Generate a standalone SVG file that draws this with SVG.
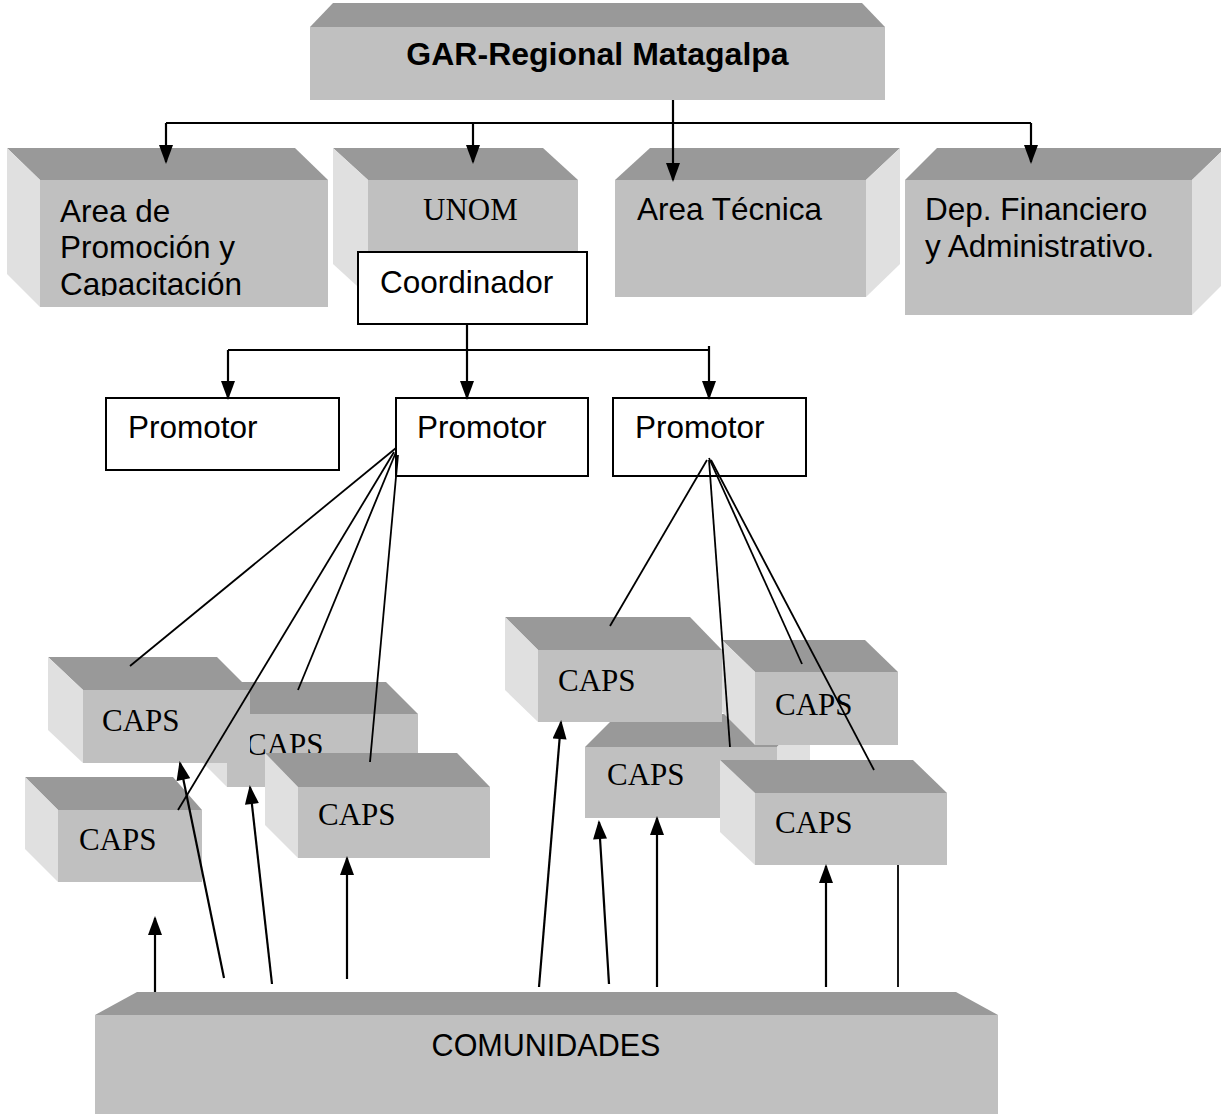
<svg xmlns="http://www.w3.org/2000/svg" width="1221" height="1114" viewBox="0 0 1221 1114">
<style>
.top{fill:#999999}
.front{fill:#c0c0c0}
.side{fill:#e0e0e0}
.box{fill:#ffffff;stroke:#000;stroke-width:2}
.ar{font-family:"Liberation Sans",Arial,sans-serif;font-size:31.5px;fill:#000}
.tm{font-family:"Liberation Serif","Times New Roman",serif;font-size:31px;fill:#000}
.con{stroke:#000;stroke-width:2;fill:none}
.arw{stroke:#000;stroke-width:2.2;fill:none;marker-end:url(#ah)}
.thin{stroke:#000;stroke-width:1.8;fill:none}
</style>
<defs>
<marker id="ah" markerUnits="userSpaceOnUse" markerWidth="20" markerHeight="14" viewBox="0 0 19 14" refX="17" refY="7" orient="auto">
<path d="M0,0 L19,7 L0,14 z" fill="#000"/>
</marker>
<clipPath id="clipA"><rect x="40" y="180" width="288" height="116"/></clipPath>
</defs>
<rect width="1221" height="1114" fill="#ffffff"/>

<g id="gar">
<polygon class="top" points="333,3 862,3 885,27 310,27"/>
<rect class="front" x="310" y="27" width="575" height="73"/>
<text class="ar" x="597.5" y="65" text-anchor="middle" font-weight="bold" style="font-size:32px">GAR-Regional Matagalpa</text>
</g>

<g id="area-promocion">
<polygon class="top" points="7,148 295,148 328,180 40,180"/>
<polygon class="side" points="7,148 40,180 40,307 7,274"/>
<rect class="front" x="40" y="180" width="288" height="127"/>
<g clip-path="url(#clipA)">
<text class="ar" x="60" y="222">Area de</text>
<text class="ar" x="60" y="258">Promoción y</text>
<text class="ar" x="60" y="295">Capacitación</text>
</g>
</g>

<g id="unom">
<polygon class="top" points="333,148 543,148 578,180 368,180"/>
<polygon class="side" points="333,148 368,180 368,296 333,264"/>
<rect class="front" x="368" y="180" width="210" height="116"/>
<text class="tm" x="423" y="220">UNOM</text>
</g>

<g id="area-tecnica">
<polygon class="top" points="650,148 900,148 866,180 615,180"/>
<polygon class="side" points="866,180 900,148 900,264 866,297"/>
<rect class="front" x="615" y="180" width="251" height="117"/>
<text class="ar" x="637" y="220">Area Técnica</text>
</g>

<g id="dep-financiero">
<polygon class="top" points="937,148 1225,148 1192,180 905,180"/>
<polygon class="side" points="1192,180 1225,148 1225,282 1192,315"/>
<rect class="front" x="905" y="180" width="287" height="135"/>
<text class="ar" x="925" y="220">Dep. Financiero</text>
<text class="ar" x="925" y="257">y Administrativo.</text>
</g>

<g id="coordinador">
<rect class="box" x="358" y="252" width="229" height="72"/>
<text class="ar" x="380" y="293">Coordinador</text>
</g>

<g id="promotor-1">
<rect class="box" x="106" y="398" width="233" height="72"/>
<text class="ar" x="128" y="438">Promotor</text>
</g>
<g id="promotor-2">
<rect class="box" x="396" y="398" width="192" height="78"/>
<text class="ar" x="417" y="438">Promotor</text>
</g>
<g id="promotor-3">
<rect class="box" x="613" y="398" width="193" height="78"/>
<text class="ar" x="635" y="438">Promotor</text>
</g>

<g id="caps-b">
<polygon class="top" points="195,682 386,682 418,714 227,714"/>
<polygon class="side" points="195,682 227,714 227,787 195,755"/>
<rect class="front" x="227" y="714" width="191" height="73"/>
<text class="tm" x="246" y="755">CAPS</text>
</g>
<g id="caps-a">
<polygon class="top" points="48,657 217,657 250,690 83,690"/>
<polygon class="side" points="48,657 83,690 83,763 48,730"/>
<rect class="front" x="83" y="690" width="167" height="73"/>
<text class="tm" x="102" y="731">CAPS</text>
</g>
<g id="caps-c">
<polygon class="top" points="265,753 457,753 490,787 298,787"/>
<polygon class="side" points="265,753 298,787 298,858 265,825"/>
<rect class="front" x="298" y="787" width="192" height="71"/>
<text class="tm" x="318" y="825">CAPS</text>
</g>
<g id="caps-d">
<polygon class="top" points="25,777 173,777 202,810 58,810"/>
<polygon class="side" points="25,777 58,810 58,882 25,849"/>
<rect class="front" x="58" y="810" width="144" height="72"/>
<text class="tm" x="79" y="850">CAPS</text>
</g>

<g id="caps-f">
<polygon class="top" points="618,714 810,714 777,747 585,747"/>
<polygon class="side" points="777,747 810,714 810,785 777,818"/>
<rect class="front" x="585" y="747" width="192" height="71"/>
<text class="tm" x="607" y="785">CAPS</text>
</g>
<g id="caps-e">
<polygon class="top" points="505,617 690,617 722,650 538,650"/>
<polygon class="side" points="505,617 538,650 538,722 505,690"/>
<rect class="front" x="538" y="650" width="184" height="72"/>
<text class="tm" x="558" y="691">CAPS</text>
</g>
<g id="caps-g">
<polygon class="top" points="722,640 865,640 898,672 755,672"/>
<polygon class="side" points="722,640 755,672 755,745 722,712"/>
<rect class="front" x="755" y="672" width="143" height="73"/>
<text class="tm" x="775" y="715">CAPS</text>
</g>
<g id="caps-h">
<polygon class="top" points="720,760 913,760 947,793 755,793"/>
<polygon class="side" points="720,760 755,793 755,865 720,832"/>
<rect class="front" x="755" y="793" width="192" height="72"/>
<text class="tm" x="775" y="833">CAPS</text>
</g>

<g id="comunidades">
<polygon class="top" points="137,992 956,992 998,1015 95,1015"/>
<rect class="front" x="95" y="1015" width="903" height="99"/>
<text class="ar" x="546" y="1056" text-anchor="middle" style="font-size:30.5px">COMUNIDADES</text>
</g>

<g id="connectors">
<path class="con" d="M166,123 H1031"/>
<path class="arw" d="M673,100 V180"/>
<path class="arw" d="M166,123 V162"/>
<path class="arw" d="M473,123 V162"/>
<path class="arw" d="M1031,123 V162"/>

<path class="con" d="M228,350 H709"/>
<path class="arw" d="M467,324 V398"/>
<path class="arw" d="M228,350 V398"/>
<path class="arw" d="M709,346 V398"/>

<path class="thin" d="M396,448 L130,666"/>
<path class="thin" d="M394,452 L178,810"/>
<path class="thin" d="M396,452 L298,690"/>
<path class="thin" d="M398,455 L370,762"/>

<path class="thin" d="M707,460 L610,626"/>
<path class="thin" d="M709,460 L730,747"/>
<path class="thin" d="M709,458 L802,664"/>
<path class="thin" d="M711,460 L874,770"/>

<path class="arw" d="M155,992 V918"/>
<path class="arw" d="M224,978 L180,763"/>
<path class="arw" d="M272,984 L250,787"/>
<path class="arw" d="M347,979 V858"/>
<path class="arw" d="M539,987 L561,722"/>
<path class="arw" d="M609,984 L599,822"/>
<path class="arw" d="M657,987 V818"/>
<path class="arw" d="M826,987 V866"/>
<path class="thin" d="M898,987 V865"/>
</g>
</svg>
